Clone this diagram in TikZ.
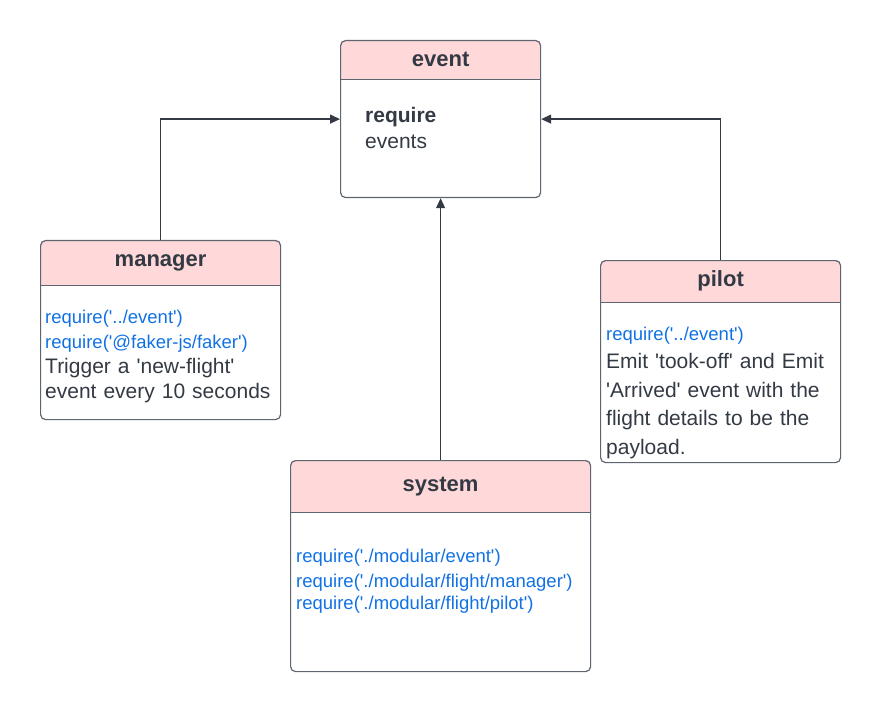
\documentclass[tikz,border=0pt]{standalone}
\usepackage{fontspec}
\setmainfont{Liberation Sans}[Ligatures=TeXOff]
\usepackage{tikz}
\usetikzlibrary{positioning, arrows.meta, backgrounds}
\definecolor{ink}{HTML}{333A44}
\definecolor{frame}{HTML}{5F6570}
\definecolor{headpink}{HTML}{FFD8D9}
\definecolor{reqblue}{HTML}{1071E5}
% one blue require() line
\newcommand{\reqline}[1]{{\color{reqblue}\fontsize{18.5}{25}\selectfont #1\par}}
\tikzset{x=1pt, y=-1pt, % one unit is one pixel of the sketch
classbox/.style={ % outer frame of a module
draw=frame, line width=1.2pt, rounded corners=5pt,
inner sep=0pt, anchor=north west},
classhead/.style={ % title strip of a module
inner sep=0pt, anchor=north, text=ink,
font=\fontsize{22}{26}\selectfont\bfseries},
classtext/.style={ % lines in the body
inner sep=0pt, anchor=base west, text=ink, text width=290pt, align=left,
font=\fontsize{21}{25}\selectfont},
link/.style={ % dependency arrows
draw=ink, line width=1.2pt, -{Triangle[length=10pt,width=9pt]}}}
\begin{document}
\begin{tikzpicture}
    \useasboundingbox (0,0) rectangle (880,711);

    \node[classbox, minimum width=200pt, minimum height=157pt] (event) at (340,40) {};
    \node[classbox, minimum width=240pt, minimum height=179pt] (manager) at (40,240) {};
    \node[classbox, minimum width=240pt, minimum height=202pt] (pilot) at (600,260) {};
    \node[classbox, minimum width=300pt, minimum height=211pt] (system) at (290,460) {};

    \node[classhead, minimum width=200pt, minimum height=39pt] (event-head) at (event.north) {event};
    \node[classhead, minimum width=240pt, minimum height=45pt] (manager-head) at (manager.north) {manager};
    \node[classhead, minimum width=240pt, minimum height=42pt] (pilot-head) at (pilot.north) {pilot};
    \node[classhead, minimum width=300pt, minimum height=52pt] (system-head) at (system.north) {system};

    \node[classtext, font=\fontsize{21}{26}\selectfont] (event-body) at (365,123)
        {{\bfseries require}\par events};
    \node[classtext] (manager-body) at (45,323)
        {\reqline{require('../event')}\reqline{require('@faker-js/faker')}%
         Trigger a 'new-flight'\\event every 10 seconds};
    \node[classtext, font=\fontsize{21}{28.5}\selectfont] (pilot-body) at (606,340)
        {\reqline{require('../event')}%
         Emit 'took-off' and Emit\\'Arrived' event with the\\flight details to be the\\payload.};
    \node[classtext] (system-body) at (296,562)
        {\reqline{require('./modular/event')}\reqline{require('./modular/flight/manager')}%
         {\color{reqblue}\fontsize{18.5}{22}\selectfont require('./modular/flight/pilot')\par}};

    % pink title strips behind the text
    \begin{scope}[on background layer]
    \foreach \c in {event,manager,pilot,system}{
        \begin{scope}
        \clip[rounded corners=5pt] (\c.north west) rectangle (\c.south east);
        \fill[headpink] (\c.north west) rectangle (\c-head.south east);
        \end{scope}
        \draw[frame, line width=1.2pt] (\c-head.south west) -- (\c-head.south east);
    }
    \end{scope}

    \draw[link] (manager.north) |- (event.west);
    \draw[link] (pilot.north) |- (event.east);
    \draw[link] (system.north) -- (event.south);

\end{tikzpicture}
\end{document}
